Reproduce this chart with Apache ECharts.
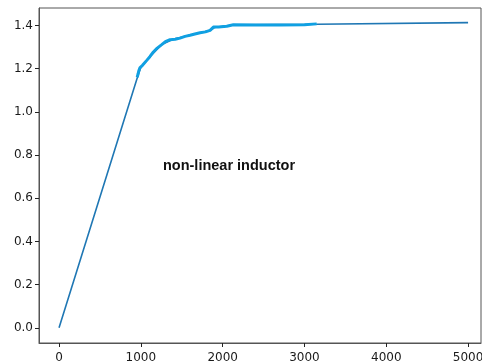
<!DOCTYPE html>
<html>
<head>
<meta charset="utf-8">
<script src="https://cdn.jsdelivr.net/npm/echarts@6/dist/echarts.min.js"></script>
<style>
  html, body { margin: 0; padding: 0; background: #fff; }
  #main { width: 482px; height: 362px; }
</style>
</head>
<body>
<div id="main"></div>
<script>
// full curve (matplotlib default blue)
const fullX = [0, 966, 1000, 1100, 1250, 1400, 1600, 1850, 1900, 2150, 3150, 5000];
const fullY = [0, 1.169, 1.205, 1.25, 1.31, 1.337, 1.354, 1.377, 1.39, 1.403, 1.405, 1.413];

// measured points overlay (light blue, thicker)
const measX = [955, 966, 975, 990, 1020, 1072, 1110, 1153, 1200, 1255, 1300, 1357, 1420, 1479, 1540, 1601, 1660, 1724, 1790, 1846, 1870, 1887, 1950, 2050, 2131, 2400, 2700, 3000, 3020, 3150];
const measY = [1.16, 1.175, 1.19, 1.205, 1.215, 1.238, 1.255, 1.277, 1.295, 1.311, 1.325, 1.334, 1.336, 1.341, 1.349, 1.354, 1.36, 1.366, 1.37, 1.377, 1.383, 1.392, 1.393, 1.396, 1.403, 1.402, 1.402, 1.403, 1.406, 1.407];

const xTicks = [0, 1000, 2000, 3000, 4000, 5000];
const yTicks = [0, 0.2, 0.4, 0.6, 0.8, 1.0, 1.2, 1.4];

const label = 'non-linear inductor';

const pair = (xs, ys) => xs.map((x, i) => [x, ys[i]]);

const chart = echarts.init(document.getElementById('main'));

chart.setOption({
  animation: false,
  grid: {
    left: 39, top: 8, right: 1, bottom: 19,
    outerBoundsMode: 'none',
    containLabel: false,
    show: true, borderColor: '#555', borderWidth: 1
  },
  xAxis: {
    type: 'value',
    min: -245,
    max: 5158,
    axisLine: { show: true, onZero: false, lineStyle: { color: '#555' } },
    axisTick: { show: true, length: 4, customValues: xTicks, lineStyle: { color: '#222' } },
    axisLabel: {
      customValues: xTicks, color: '#1a1a1a', fontSize: 12, margin: 9,
      fontFamily: 'DejaVu Sans',
      hideOverlap: false,
      formatter: v => String(v)
    },
    splitLine: { show: false }
  },
  yAxis: {
    type: 'value',
    min: -0.0705,
    max: 1.4805,
    axisLine: { show: true, onZero: false, lineStyle: { color: '#555' } },
    axisTick: { show: true, length: 4, customValues: yTicks, lineStyle: { color: '#222' } },
    axisLabel: {
      customValues: yTicks, color: '#1a1a1a', fontSize: 12, margin: 6,
      fontFamily: 'DejaVu Sans',
      formatter: v => v.toFixed(1)
    },
    splitLine: { show: false }
  },
  series: [
    {
      type: 'line',
      data: pair(fullX, fullY),
      showSymbol: false,
      lineStyle: { color: '#1f77b4', width: 1.6 }
    },
    {
      type: 'line',
      data: pair(measX, measY),
      showSymbol: false,
      lineStyle: { color: '#10a0e2', width: 3 }
    }
  ],
  graphic: [
    {
      type: 'text',
      x: 229,
      y: 166,
      style: {
        text: label,
        font: 'bold 14.5px "Liberation Sans", Arial, sans-serif',
        fill: '#111',
        align: 'center',
        verticalAlign: 'middle'
      }
    }
  ]
});
</script>
</body>
</html>
